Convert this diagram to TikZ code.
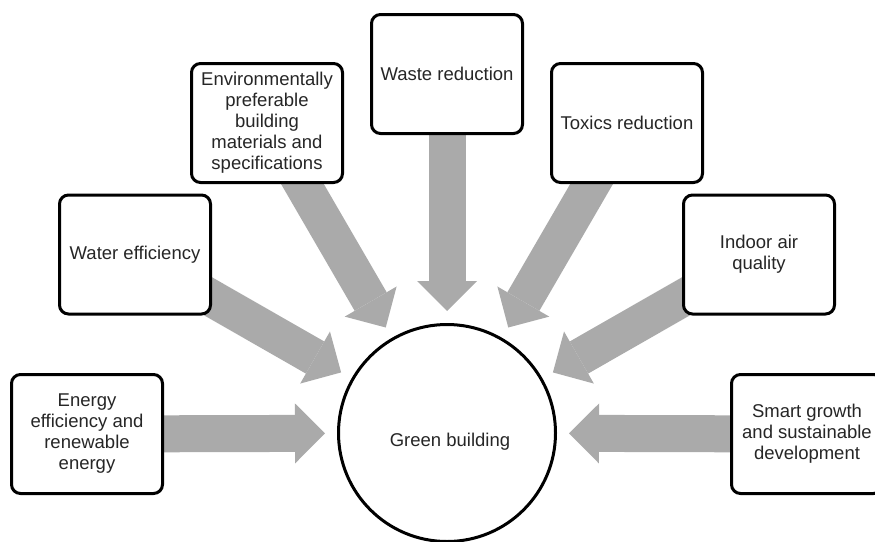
\documentclass[tikz,border=0pt]{standalone}
\usepackage{fontspec}
\setmainfont{Liberation Sans}
\usetikzlibrary{arrows.meta,backgrounds}
\definecolor{arrowgray}{RGB}{170,170,170}
\definecolor{txt}{RGB}{38,38,38}
\begin{document}
\begin{tikzpicture}[x=1pt,y=-1pt,
  box/.style={draw=black, line width=3pt, rounded corners=9pt, fill=white,
    minimum width=151pt, minimum height=119pt, align=center, inner sep=0pt,
    font=\fontsize{18.5pt}{21pt}\selectfont, text=txt},
  hub/.style={circle, draw=black, line width=3pt, fill=white, minimum size=217pt,
    inner sep=0pt, font=\fontsize{18.5pt}{21pt}\selectfont, text=txt},
  feed/.style={draw=arrowgray, line width=37pt, shorten >=12pt,
    -{Triangle[length=30pt,width=60pt,line width=0pt]}}]
\useasboundingbox (0,0) rectangle (875,541);
\clip (0,0) rectangle (875,541);
\node[hub] (green) at (447,433) {\raisebox{-13pt}[0pt][0pt]{\hspace*{6pt}Green building}};
\node[box] (energy) at (87,434) {Energy\\efficiency and\\renewable\\energy};
\node[box] (water) at (135,254.5) {Water efficiency};
\node[box] (env) at (267,123) {Environmentally\\preferable\\building\\materials and\\specifications};
\node[box] (waste) at (447,74) {Waste reduction};
\node[box] (toxics) at (627,123) {Toxics reduction};
\node[box] (indoor) at (759,254.5) {Indoor air\\quality};
\node[box] (smart) at (807,434) {Smart growth\\and sustainable\\development};
\begin{pgfonlayer}{background}
\draw[feed] (energy.center) -- (green);
\draw[feed] (water.center) -- (green);
\draw[feed] (env.center) -- (green);
\draw[feed] (waste.center) -- (green);
\draw[feed] (toxics.center) -- (green);
\draw[feed] (indoor.center) -- (green);
\draw[feed] (smart.center) -- (green);
\end{pgfonlayer}
\end{tikzpicture}
\end{document}
